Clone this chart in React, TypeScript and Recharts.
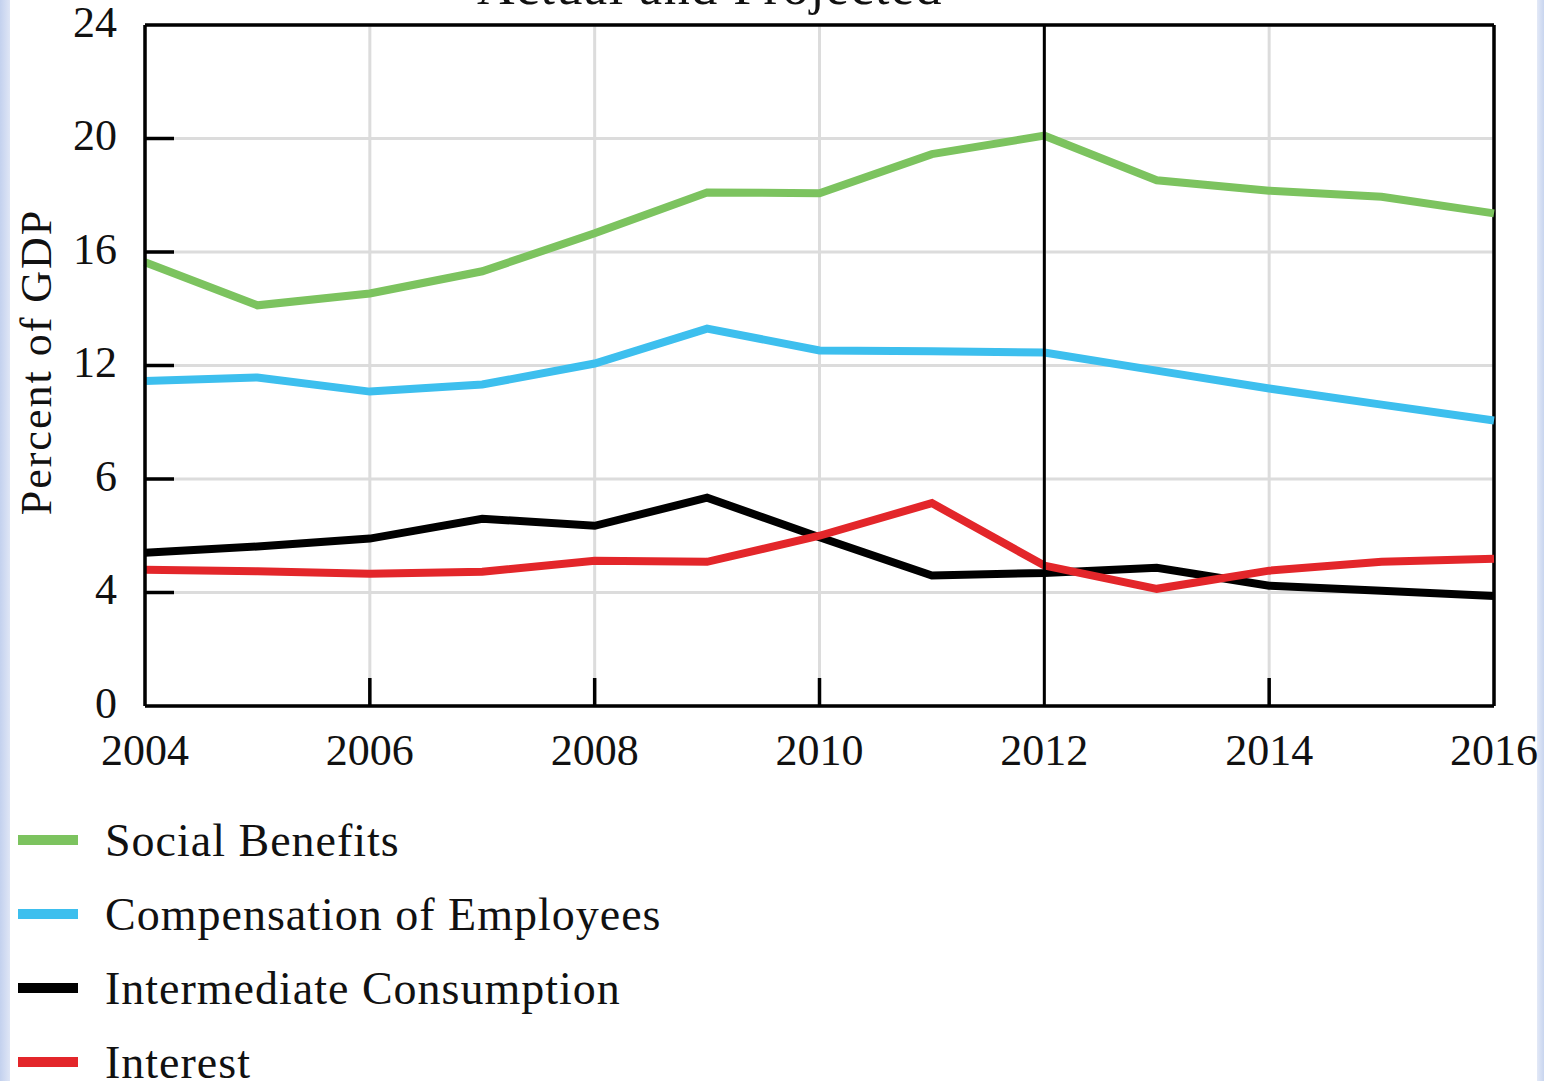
import { LineChart, Line, XAxis, YAxis, CartesianGrid, ReferenceLine } from "recharts"

const years = [2004, 2005, 2006, 2007, 2008, 2009, 2010, 2011, 2012, 2013, 2014, 2015, 2016]
const socialBenefits = [15.64, 14.12, 14.54, 15.32, 16.66, 18.1, 18.07, 19.45, 20.1, 18.53, 18.16, 17.95, 17.36]
const compensation = [11.45, 11.58, 11.08, 11.33, 12.07, 13.3, 12.53, 12.5, 12.46, 11.82, 11.19, 10.62, 10.06]
const intermediate = [5.4, 5.62, 5.9, 6.6, 6.35, 7.34, 5.95, 4.6, 4.69, 4.87, 4.24, 4.06, 3.88]
const interest = [4.8, 4.75, 4.66, 4.73, 5.12, 5.08, 6.0, 7.15, 4.95, 4.13, 4.77, 5.08, 5.19]

const xTicks = [2004, 2006, 2008, 2010, 2012, 2014, 2016]
const yTicks = [0, 4, 8, 12, 16, 20, 24]
const yTickLabels = ["0", "4", "6", "12", "16", "20", "24"]

const series = [
  { key: "social", name: "Social Benefits", color: "#7cc35f", values: socialBenefits },
  { key: "comp", name: "Compensation of Employees", color: "#3dbfee", values: compensation },
  { key: "inter", name: "Intermediate Consumption", color: "#000000", values: intermediate },
  { key: "interest", name: "Interest", color: "#e3262a", values: interest },
]

const data = years.map((year, i) => {
  const row: Record<string, number> = { year }
  series.forEach((s) => (row[s.key] = s.values[i]))
  return row
})

const FONT = "'Liberation Serif', 'DejaVu Serif', serif"

const YTick = (props: any) => {
  const { x, y, payload, index } = props
  const inner = payload.value > 0 && payload.value < 24
  return (
    <g>
      {inner && <line x1={x} x2={x + 29} y1={y} y2={y} stroke="#000" strokeWidth={3.5} />}
      <text x={x - 28} y={y - 3} textAnchor="end" dominantBaseline="central" fontFamily={FONT} fontSize={44} fill="#111">
        {yTickLabels[index]}
      </text>
    </g>
  )
}

const XTick = (props: any) => {
  const { x, y, payload } = props
  const v = payload.value
  const inner = v > 2004 && v < 2016 && v !== 2012
  return (
    <g>
      {inner && <line x1={x} x2={x} y1={y} y2={y - 28} stroke="#000" strokeWidth={3.5} />}
      <text x={x} y={y + 44} textAnchor="middle" dominantBaseline="central" fontFamily={FONT} fontSize={44} fill="#111">
        {v}
      </text>
    </g>
  )
}

export default function App() {
  return (
    <div style={{ position: "fixed", left: 0, top: 0, width: 1544, height: 1081, background: "#fff", overflow: "hidden" }}>
      <div style={{ position: "absolute", left: 0, top: 0, width: 10, height: 1081, background: "linear-gradient(90deg, #c3d1ee, #dfe6f6)" }} />
      <div style={{ position: "absolute", left: 1537, top: 0, width: 7, height: 1081, background: "linear-gradient(90deg, #e3e9f7, #c8d5ef)" }} />
      <div
        style={{
          position: "absolute",
          left: 0,
          width: 1420,
          top: -39,
          textAlign: "center",
          fontFamily: FONT,
          fontSize: 52,
          lineHeight: "52px",
          letterSpacing: 1.5,
          color: "#111",
        }}
      >
        Actual and Projected
      </div>
      <svg style={{ position: "absolute", left: 0, top: 0 }} width={80} height={760}>
        <text
          x={36}
          y={362}
          transform="rotate(-90 36 362)"
          textAnchor="middle"
          dominantBaseline="central"
          fontFamily={FONT}
          fontSize={44}
          letterSpacing={2}
          fill="#111"
        >
          Percent of GDP
        </text>
      </svg>
      <div style={{ position: "absolute", left: 0, top: 0 }}>
        <LineChart width={1544} height={786} data={data} margin={{ top: 25, right: 50, bottom: 0, left: 0 }}>
          <CartesianGrid stroke="#dcdcdc" strokeWidth={3} horizontalValues={yTicks} verticalValues={xTicks} />
          <XAxis
            dataKey="year"
            type="number"
            domain={[2004, 2016]}
            ticks={xTicks}
            height={80}
            tickSize={0}
            tickMargin={0}
            tick={<XTick />}
            axisLine={{ stroke: "#000", strokeWidth: 3.5 }}
            tickLine={false}
            interval={0}
          />
          <YAxis
            type="number"
            domain={[0, 24]}
            ticks={yTicks}
            width={145}
            tickSize={0}
            tickMargin={0}
            tick={<YTick />}
            axisLine={{ stroke: "#000", strokeWidth: 3.5 }}
            tickLine={false}
            interval={0}
          />
          <ReferenceLine y={24} stroke="#000" strokeWidth={3.5} />
          <ReferenceLine x={2016} stroke="#000" strokeWidth={3.5} />
          {series.map((s) => (
            <Line
              key={s.key}
              type="linear"
              dataKey={s.key}
              name={s.name}
              stroke={s.color}
              strokeWidth={8}
              dot={false}
              activeDot={false}
              isAnimationActive={false}
            />
          ))}
          <ReferenceLine x={2012} stroke="#000" strokeWidth={3} />
        </LineChart>
      </div>
      <div style={{ position: "absolute", left: 18, top: 803, fontFamily: FONT, fontSize: 46, letterSpacing: 1, color: "#111" }}>
        {series.map((s) => (
          <div key={s.key} style={{ display: "flex", alignItems: "center", height: 74 }}>
            <div style={{ width: 60, height: 10, background: s.color, marginRight: 27 }} />
            <span>{s.name}</span>
          </div>
        ))}
      </div>
    </div>
  )
}
